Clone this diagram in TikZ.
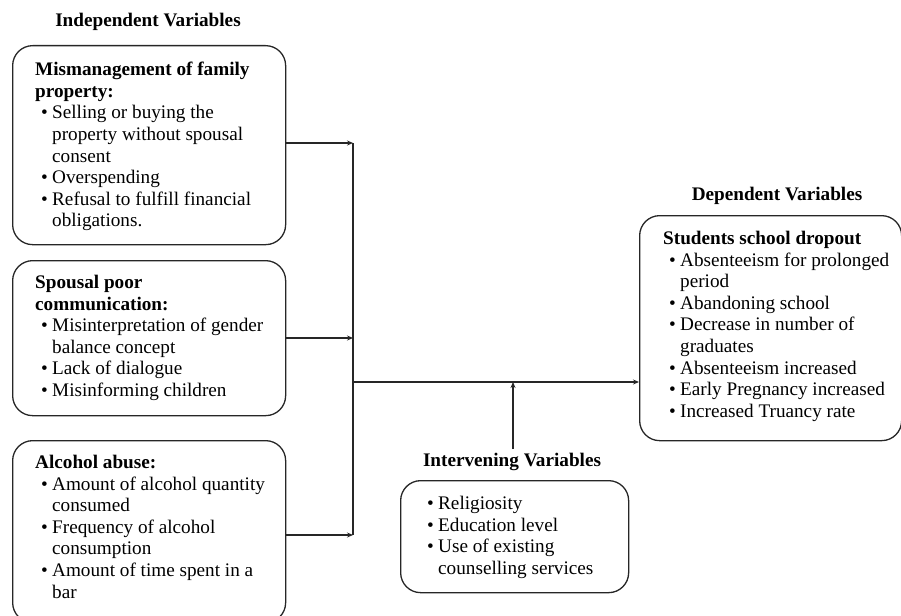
\documentclass[tikz,border=0pt]{standalone}
\usepackage{fontspec}
\setmainfont{Liberation Serif}
\usetikzlibrary{arrows.meta}
\newcommand{\bl}[1]{\makebox[17pt][l]{\hspace{6pt}\textbullet}#1\\}
\newcommand{\cl}[1]{\hspace*{17pt}#1\\}
\begin{document}
\begin{tikzpicture}[x=1pt,y=-1pt,
  box/.style={draw=black!85,line width=1.3pt,rounded corners=20pt,inner sep=0pt,anchor=north west},
  txt/.style={anchor=north west,inner sep=0pt,align=left,font=\fontsize{19.2}{21.6}\selectfont},
  ttl/.style={inner sep=0pt,font=\fontsize{19.2}{21.6}\selectfont\bfseries},
  conn/.style={draw=black!85,line width=1.6pt},
  arr/.style={conn,-{Stealth[length=6pt,width=5pt]}}]
\useasboundingbox (0,0) rectangle (901,615);
% titles
\node[ttl] (tind) at (148,22) {Independent Variables};
\node[ttl] (tdep) at (777,196) {Dependent Variables};
\node[ttl] (tint) at (512,462) {Intervening Variables};
% boxes
\node[box,minimum width=273pt,minimum height=199pt] (b1) at (12,45) {};
\node[box,minimum width=273pt,minimum height=155pt] (b2) at (12,260) {};
\node[box,minimum width=273pt,minimum height=182pt] (b3) at (12,440) {};
\node[box,minimum width=228pt,minimum height=112pt] (bi) at (400,480) {};
\node[box,minimum width=262pt,minimum height=225pt] (bd) at (639,215) {};
% texts
\node[txt] (x1) at (35,62) {\textbf{Mismanagement of family}\\\textbf{property:}\\
\bl{Selling or buying the}\cl{property without spousal}\cl{consent}\bl{Overspending}\bl{Refusal to fulfill financial}\cl{obligations.}};
\node[txt] (x2) at (35,275) {\textbf{Spousal poor}\\\textbf{communication:}\\
\bl{Misinterpretation of gender}\cl{balance concept}\bl{Lack of dialogue}\bl{Misinforming children}};
\node[txt] (x3) at (35,455) {\textbf{Alcohol abuse:}\\
\bl{Amount of alcohol quantity}\cl{consumed}\bl{Frequency of alcohol}\cl{consumption}\bl{Amount of time spent in a}\cl{bar}};
\node[txt] (xi) at (421,496) {\bl{Religiosity}\bl{Education level}\bl{Use of existing}\cl{counselling services}};
\node[txt] (xd) at (663,231) {\textbf{Students school dropout}\\
\bl{Absenteeism for prolonged}\cl{period}\bl{Abandoning school}\bl{Decrease in number of}\cl{graduates}\bl{Absenteeism increased}\bl{Early Pregnancy increased}\bl{Increased Truancy rate}};
% connectors
\coordinate (j1) at (353,143);
\coordinate (j2) at (353,338);
\coordinate (j3) at (353,535);
\coordinate (jm) at (353,382);
\coordinate (ji) at (513,382);
\draw[conn] (j1) -- (j3);
\draw[arr] (b1.east |- j1) -- (j1);
\draw[arr] (b2.east |- j2) -- (j2);
\draw[arr] (b3.east |- j3) -- (j3);
\draw[arr] (jm) -- (bd.west |- jm);
\draw[arr] (ji |- tint.north) ++(0,-4) -- (ji);
\end{tikzpicture}
\end{document}
